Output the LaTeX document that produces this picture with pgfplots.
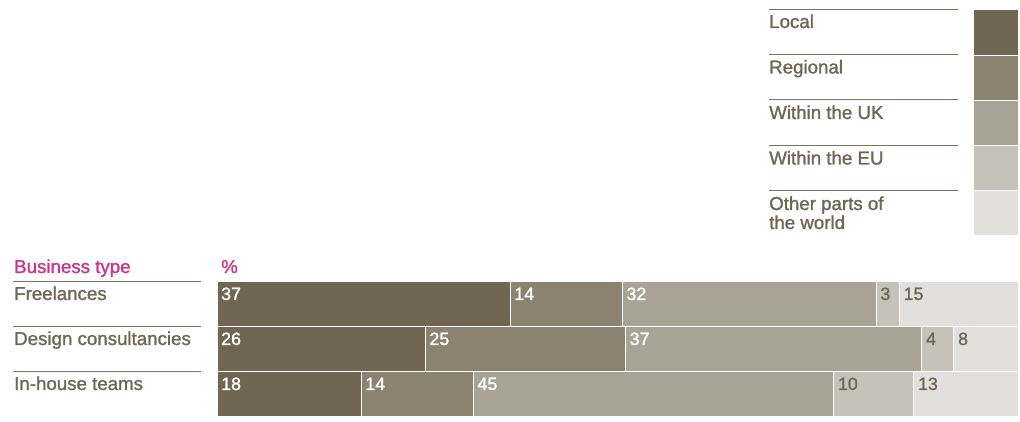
\documentclass[border=0pt]{standalone}
\usepackage{pgfplots}
\pgfplotsset{compat=1.18}
\usepackage{fontspec}
\setmainfont{Liberation Sans}[BoldFont=Liberation Sans, BoldFeatures={FakeBold=1.3}]
\definecolor{cLocal}{HTML}{716652}
\definecolor{cRegional}{HTML}{8B8270}
\definecolor{cUK}{HTML}{A9A395}
\definecolor{cEU}{HTML}{C6C2BA}
\definecolor{cOther}{HTML}{E2E0DC}
\definecolor{ctext}{HTML}{6F6654}
\definecolor{cline}{HTML}{7C725F}
\definecolor{cmag}{HTML}{C8358A}
\begin{document}
\begin{tikzpicture}[x=1pt,y=1pt,font=\fontsize{18.7}{20}\selectfont\bfseries]
\useasboundingbox (0,0) rectangle (1020,422);
\pgfplotsset{geom/.style={at={(217pt,5pt)}, anchor=south west, scale only axis, width=801pt, height=135pt, xmin=0, xmax=100, ymin=0.5, ymax=3.5, hide axis, clip=false}}
\begin{axis}[geom, xbar stacked, bar width=45pt]
\addplot[fill=cLocal, draw=white, line width=1pt] coordinates {(36.6,3) (26,2) (18,1)};
\addplot[fill=cRegional, draw=white, line width=1pt] coordinates {(14.0,3) (25,2) (14,1)};
\addplot[fill=cUK, draw=white, line width=1pt] coordinates {(31.7,3) (37,2) (45,1)};
\addplot[fill=cEU, draw=white, line width=1pt] coordinates {(2.9,3) (4,2) (10,1)};
\addplot[fill=cOther, draw=white, line width=1pt] coordinates {(14.8,3) (8,2) (13,1)};
\end{axis}
\begin{axis}[geom]
\addplot[draw=none, mark=none, nodes near coords, point meta=explicit symbolic,
  every node near coord/.append style={anchor=base west, inner sep=0pt, xshift=4pt, yshift=-18pt, text=white, font=\fontsize{17.8}{18}\selectfont\bfseries}]
  coordinates {(0,3.5)[37] (36.6,3.5)[14] (50.6,3.5)[32]
               (0,2.5)[26] (26,2.5)[25] (51,2.5)[37]
               (0,1.5)[18] (18,1.5)[14] (32,1.5)[45]};
\addplot[draw=none, mark=none, nodes near coords, point meta=explicit symbolic,
  every node near coord/.append style={anchor=base west, inner sep=0pt, xshift=4pt, yshift=-18pt, text=ctext, font=\fontsize{17.8}{18}\selectfont\bfseries}]
  coordinates {(82.3,3.5)[3] (85.2,3.5)[15]
               (88,2.5)[4] (92,2.5)[8]
               (77,1.5)[10] (87,1.5)[13]};
\end{axis}
% left labels
\node[anchor=base west, inner sep=0pt, text=cmag] at (14,149) {Business type};
\node[anchor=base west, inner sep=0pt, text=cmag] at (221,149) {\%};
\foreach \yy in {140,95,50} {\draw[cline, line width=1pt] (13,\yy) -- (201,\yy);}
\node[anchor=base west, inner sep=0pt, text=ctext] at (14,122) {Freelances};
\node[anchor=base west, inner sep=0pt, text=ctext] at (14,77) {Design consultancies};
\node[anchor=base west, inner sep=0pt, text=ctext] at (14,32) {In-house teams};
% legend
\foreach \yy in {412,367,322,276,231} {\draw[cline, line width=1pt] (769,\yy) -- (958,\yy);}
\node[anchor=base west, inner sep=0pt, text=ctext] at (769,394) {Local};
\node[anchor=base west, inner sep=0pt, text=ctext] at (769,348.5) {Regional};
\node[anchor=base west, inner sep=0pt, text=ctext] at (769,303) {Within the UK};
\node[anchor=base west, inner sep=0pt, text=ctext] at (769,257.5) {Within the EU};
\node[anchor=base west, inner sep=0pt, text=ctext] at (769,212) {Other parts of};
\node[anchor=base west, inner sep=0pt, text=ctext] at (769,193) {the world};
\draw[white, line width=1pt, fill=cLocal] (973,412) rectangle (1018,366.8);
\draw[white, line width=1pt, fill=cRegional] (973,366.8) rectangle (1018,321.6);
\draw[white, line width=1pt, fill=cUK] (973,321.6) rectangle (1018,276.4);
\draw[white, line width=1pt, fill=cEU] (973,276.4) rectangle (1018,231.2);
\draw[white, line width=1pt, fill=cOther] (973,231.2) rectangle (1018,186);
\end{tikzpicture}
\end{document}
